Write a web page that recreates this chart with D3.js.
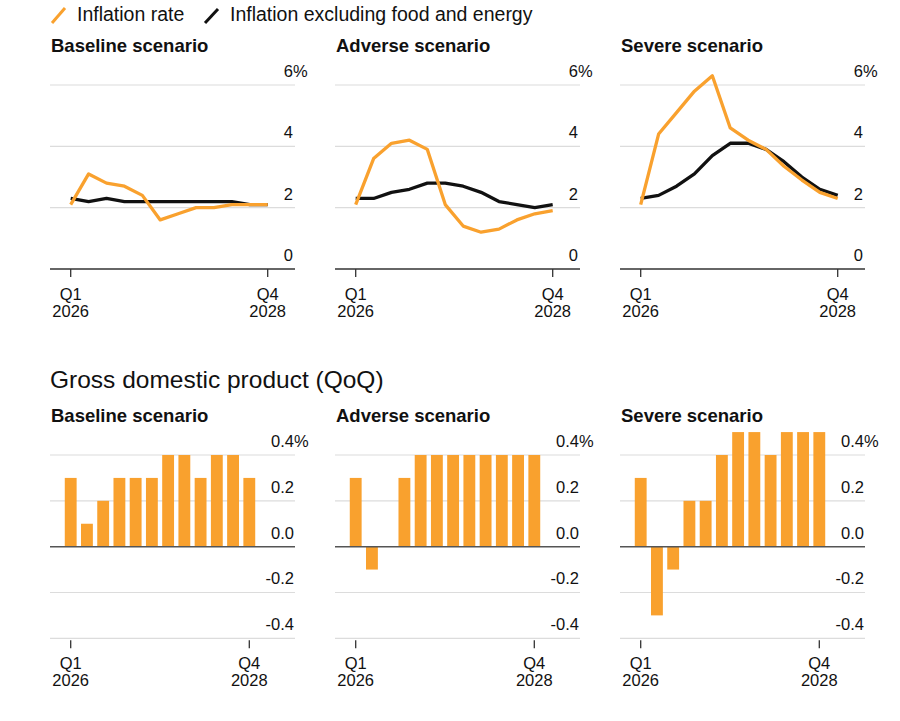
<!DOCTYPE html>
<html>
<head>
<meta charset="utf-8">
<script src="https://cdn.jsdelivr.net/npm/d3@7"></script>
<style>
  body { margin: 0; background: #fff; }
  svg text { font-family: "Liberation Sans", Arial, Helvetica, sans-serif; fill: #111; }
</style>
</head>
<body>
<svg id="chart" width="900" height="721"></svg>
<script>
// quarters on the x axis
var quarters = ["Q1 2026","Q2 2026","Q3 2026","Q4 2026",
                "Q1 2027","Q2 2027","Q3 2027","Q4 2027",
                "Q1 2028","Q2 2028","Q3 2028","Q4 2028"];

var scenarios = ["Baseline scenario", "Adverse scenario", "Severe scenario"];

// inflation rate (orange) and inflation excl. food & energy (black), %
var inflBaseline = [2.1, 3.1, 2.8, 2.7, 2.4, 1.6, 1.8, 2.0, 2.0, 2.1, 2.1, 2.1];
var coreBaseline = [2.3, 2.2, 2.3, 2.2, 2.2, 2.2, 2.2, 2.2, 2.2, 2.2, 2.1, 2.1];
var inflAdverse  = [2.1, 3.6, 4.1, 4.2, 3.9, 2.1, 1.4, 1.2, 1.3, 1.6, 1.8, 1.9];
var coreAdverse  = [2.3, 2.3, 2.5, 2.6, 2.8, 2.8, 2.7, 2.5, 2.2, 2.1, 2.0, 2.1];
var inflSevere   = [2.1, 4.4, 5.1, 5.8, 6.3, 4.6, 4.2, 3.9, 3.35, 2.9, 2.5, 2.3];
var coreSevere   = [2.3, 2.4, 2.7, 3.1, 3.7, 4.1, 4.1, 3.9, 3.5, 3.0, 2.6, 2.4];

// GDP quarter on quarter, %
var gdpBaseline = [0.3, 0.1, 0.2, 0.3, 0.3, 0.3, 0.4, 0.4, 0.3, 0.4, 0.4, 0.3];
var gdpAdverse  = [0.3, -0.1, 0, 0.3, 0.4, 0.4, 0.4, 0.4, 0.4, 0.4, 0.4, 0.4];
var gdpSevere   = [0.3, -0.3, -0.1, 0.2, 0.2, 0.4, 0.5, 0.5, 0.4, 0.5, 0.5, 0.5];

var inflTicks = [0, 2, 4, 6];
var inflTickLabels = ["0", "2", "4", "6"];
var gdpTicks = [-0.4, -0.2, 0, 0.2, 0.4];
var gdpTickLabels = ["-0.4", "-0.2", "0.0", "0.2", "0.4"];

var inflSeries = [[inflBaseline, coreBaseline], [inflAdverse, coreAdverse], [inflSevere, coreSevere]];
var gdpSeries = [gdpBaseline, gdpAdverse, gdpSevere];

var orange = "#f9a12e";
var black = "#111111";
var grid = "#dcdcdc";
var axisCol = "#333333";

var svg = d3.select("#chart");
var panelLeft = [50, 335, 620];
var panelWidth = 245;

// ---------- legend ----------
var legend = svg.append("g");
legend.append("line").attr("x1", 52).attr("y1", 23).attr("x2", 65).attr("y2", 8)
    .attr("stroke", orange).attr("stroke-width", 3);
legend.append("text").attr("x", 77).attr("y", 21).attr("font-size", 19.5).text("Inflation rate");
legend.append("line").attr("x1", 205).attr("y1", 23).attr("x2", 218).attr("y2", 9)
    .attr("stroke", black).attr("stroke-width", 3);
legend.append("text").attr("x", 230).attr("y", 21).attr("font-size", 19.5)
    .text("Inflation excluding food and energy");

function drawXLabels(g, x, first, last, y1, y2) {
    [[first, "Q1", "2026"], [last, "Q4", "2028"]].forEach(function(t) {
        g.append("line").attr("x1", x(t[0])).attr("x2", x(t[0]))
            .attr("y1", y1).attr("y2", y1 + 8).attr("stroke", axisCol).attr("stroke-width", 1.3);
        g.append("text").attr("x", x(t[0])).attr("y", y2).attr("text-anchor", "middle")
            .attr("font-size", 16.5).text(t[1]);
        g.append("text").attr("x", x(t[0])).attr("y", y2 + 17).attr("text-anchor", "middle")
            .attr("font-size", 16.5).text(t[2]);
    });
}

function drawYLabels(g, y, ticks, labels, right) {
    ticks.forEach(function(t, i) {
        g.append("text").attr("x", right).attr("y", y(t) - 8)
            .attr("text-anchor", "end").attr("font-size", 16.5).text(labels[i]);
        if (i == ticks.length - 1) {
            g.append("text").attr("x", right).attr("y", y(t) - 8)
                .attr("font-size", 16.5).text("%");
        }
    });
}

// ---------- inflation panels ----------
scenarios.forEach(function(name, p) {
    var left = panelLeft[p];
    var g = svg.append("g");

    var x = d3.scalePoint().domain(quarters).range([left + 20.7, left + 217.7]);
    var y = d3.scaleLinear().domain([0, 6]).range([269, 85]);

    g.append("text").attr("x", left + 1).attr("y", 52).attr("font-size", 18.5)
        .attr("font-weight", "bold").text(name);

    g.selectAll(".grid").data(inflTicks.filter(function(d) { return d != 0; }))
        .enter().append("line")
        .attr("x1", left).attr("x2", left + panelWidth)
        .attr("y1", function(d) { return y(d); }).attr("y2", function(d) { return y(d); })
        .attr("stroke", grid).attr("stroke-width", 1.2);

    g.append("line").attr("x1", left).attr("x2", left + panelWidth)
        .attr("y1", y(0)).attr("y2", y(0)).attr("stroke", axisCol).attr("stroke-width", 1.5);

    drawYLabels(g, y, inflTicks, inflTickLabels, left + 243);
    drawXLabels(g, x, quarters[0], quarters[quarters.length - 1], y(0), 300);

    var line = d3.line()
        .x(function(d, i) { return x(quarters[i]); })
        .y(function(d) { return y(d); });

    g.append("path").datum(inflSeries[p][1]).attr("d", line)
        .attr("fill", "none").attr("stroke", black).attr("stroke-width", 3.3)
        .attr("stroke-linejoin", "round");
    g.append("path").datum(inflSeries[p][0]).attr("d", line)
        .attr("fill", "none").attr("stroke", orange).attr("stroke-width", 3.3)
        .attr("stroke-linejoin", "round");
});

// ---------- GDP panels ----------
svg.append("text").attr("x", 50).attr("y", 388).attr("font-size", 24.5)
    .text("Gross domestic product (QoQ)");

scenarios.forEach(function(name, p) {
    var left = panelLeft[p];
    var g = svg.append("g");
    var step = 16.24;

    var x = d3.scaleBand().domain(quarters)
        .range([left + 20.7 - step / 2, left + 199.3 + step / 2])
        .paddingInner(0.27).paddingOuter(0.135);
    var y = d3.scaleLinear().domain([-0.4, 0.4]).range([638.3, 455]);

    g.append("text").attr("x", left + 1).attr("y", 422).attr("font-size", 18.5)
        .attr("font-weight", "bold").text(name);

    g.selectAll(".grid").data(gdpTicks.filter(function(d) { return d != 0; }))
        .enter().append("line")
        .attr("x1", left).attr("x2", left + panelWidth)
        .attr("y1", function(d) { return y(d); }).attr("y2", function(d) { return y(d); })
        .attr("stroke", grid).attr("stroke-width", 1.2);

    drawYLabels(g, y, gdpTicks, gdpTickLabels, left + 244);

    g.selectAll("rect").data(gdpSeries[p]).enter().append("rect")
        .attr("x", function(d, i) { return x(quarters[i]); })
        .attr("width", x.bandwidth())
        .attr("y", function(d) { return y(Math.max(0, d)); })
        .attr("height", function(d) { return Math.abs(y(d) - y(0)); })
        .attr("fill", orange);

    g.append("line").attr("x1", left).attr("x2", left + panelWidth)
        .attr("y1", y(0)).attr("y2", y(0)).attr("stroke", "#555").attr("stroke-width", 1.5);

    var xc = function(q) { return x(q) + x.bandwidth() / 2; };
    drawXLabels(g, xc, quarters[0], quarters[quarters.length - 1], y(-0.4) + 2, 669);
});
</script>
</body>
</html>
